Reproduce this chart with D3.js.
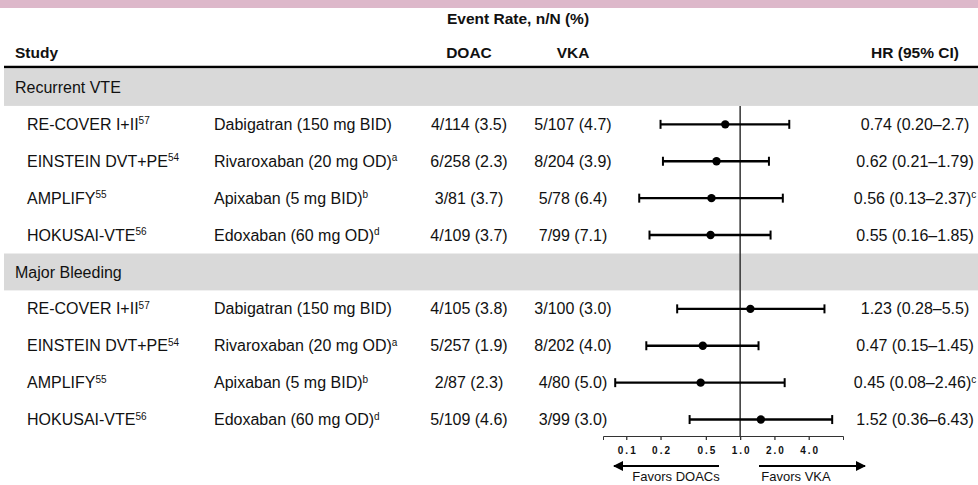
<!doctype html>
<html>
<head>
<meta charset="UTF-8">
<title>forest plot</title>
<script src="https://d3js.org/d3.v7.min.js"></script>
<style>
  body { margin: 0; background: #fff; }
  text { font-family: "Liberation Sans", Arial, sans-serif; fill: #111; }
</style>
</head>
<body>
<svg width="978" height="485"></svg>
<script>
// ---- data ----
var groups = ["Recurrent VTE", "Major Bleeding"];
var studies = ["RE-COVER I+II", "EINSTEIN DVT+PE", "AMPLIFY", "HOKUSAI-VTE"];
var studyRefs = ["57", "54", "55", "56"];
var drugs = ["Dabigatran (150 mg BID)", "Rivaroxaban (20 mg OD)", "Apixaban (5 mg BID)", "Edoxaban (60 mg OD)"];
var drugNotes = ["", "a", "b", "d"];

var doacRate = [["4/114 (3.5)", "6/258 (2.3)", "3/81 (3.7)", "4/109 (3.7)"],
                ["4/105 (3.8)", "5/257 (1.9)", "2/87 (2.3)", "5/109 (4.6)"]];
var vkaRate  = [["5/107 (4.7)", "8/204 (3.9)", "5/78 (6.4)", "7/99 (7.1)"],
                ["3/100 (3.0)", "8/202 (4.0)", "4/80 (5.0)", "3/99 (3.0)"]];

var hr   = [[0.74, 0.62, 0.56, 0.55], [1.23, 0.47, 0.45, 1.52]];
var hrLo = [[0.20, 0.21, 0.13, 0.16], [0.28, 0.15, 0.08, 0.36]];
var hrHi = [[2.7, 1.79, 2.37, 1.85], [5.5, 1.45, 2.46, 6.43]];
var hrText = [["0.74 (0.20\u20132.7)", "0.62 (0.21\u20131.79)", "0.56 (0.13\u20132.37)", "0.55 (0.16\u20131.85)"],
              ["1.23 (0.28\u20135.5)", "0.47 (0.15\u20131.45)", "0.45 (0.08\u20132.46)", "1.52 (0.36\u20136.43)"]];
var hrNotes = [["", "", "c", ""], ["", "", "c", ""]];

var tickValues = [0.1, 0.2, 0.5, 1, 2, 4];
var tickLabels = ["0.1", "0.2", "0.5", "1.0", "2.0", "4.0"];

// ---- layout ----
var svg = d3.select("svg");
var W = 978;

// one slot per line: group band + its studies
var slots = [];
groups.forEach(function(g, gi) {
  slots.push({type: "group", g: gi, key: "g" + gi});
  studies.forEach(function(s, si) {
    slots.push({type: "row", g: gi, s: si, key: "r" + gi + "_" + si});
  });
});

var y = d3.scaleBand().domain(slots.map(function(d) { return d.key; })).range([69, 438]);
var x = d3.scaleLog().domain([1 / 16, 8]).range([603, 843]);

var colStudy = 27, colGroup = 15, colDrug = 214, colDoac = 469, colVka = 573, colHr = 915;

// top pink strip
svg.append("rect").attr("x", 0).attr("y", 0).attr("width", W).attr("height", 8).attr("fill", "#ddb8ca");

// headers
svg.append("text").attr("x", 518).attr("y", 24).attr("text-anchor", "middle")
  .attr("font-size", 15.5).attr("font-weight", "bold").text("Event Rate, n/N (%)");
var heads = [["Study", 15, "start"], ["DOAC", colDoac, "middle"], ["VKA", colVka, "middle"], ["HR (95% CI)", colHr, "middle"]];
heads.forEach(function(h) {
  svg.append("text").attr("x", h[1]).attr("y", 58).attr("text-anchor", h[2])
    .attr("font-size", 15.5).attr("font-weight", "bold").text(h[0]);
});
svg.append("line").attr("x1", 4).attr("x2", W).attr("y1", 67).attr("y2", 67)
  .attr("stroke", "#000").attr("stroke-width", 2.5);

// group bands
slots.filter(function(d) { return d.type === "group"; }).forEach(function(d) {
  svg.append("rect").attr("x", 4).attr("y", y(d.key)).attr("width", W - 4).attr("height", y.bandwidth())
    .attr("fill", "#d9d9d9");
  svg.append("text").attr("x", colGroup).attr("y", y(d.key) + y.bandwidth() / 2).attr("dy", "0.35em")
    .attr("font-size", 16).text(groups[d.g]);
});

// reference line at HR = 1
svg.append("line").attr("x1", x(1)).attr("x2", x(1))
  .attr("y1", y("r0_0")).attr("y2", 436)
  .attr("stroke", "#333").attr("stroke-width", 1.5);

// study rows
var rows = slots.filter(function(d) { return d.type === "row"; });
rows.forEach(function(d) {
  var cy = y(d.key) + y.bandwidth() / 2;
  var t = svg.append("text").attr("x", colStudy).attr("y", cy).attr("dy", "0.35em").attr("font-size", 16);
  t.append("tspan").text(studies[d.s]);
  t.append("tspan").attr("font-size", 10).attr("dy", "-0.55em").text(studyRefs[d.s]);

  var t2 = svg.append("text").attr("x", colDrug).attr("y", cy).attr("dy", "0.35em").attr("font-size", 16);
  t2.append("tspan").text(drugs[d.s]);
  if (drugNotes[d.s]) t2.append("tspan").attr("font-size", 10).attr("dy", "-0.55em").text(drugNotes[d.s]);

  svg.append("text").attr("x", colDoac).attr("y", cy).attr("dy", "0.35em").attr("font-size", 16)
    .attr("text-anchor", "middle").text(doacRate[d.g][d.s]);
  svg.append("text").attr("x", colVka).attr("y", cy).attr("dy", "0.35em").attr("font-size", 16)
    .attr("text-anchor", "middle").text(vkaRate[d.g][d.s]);

  var t3 = svg.append("text").attr("x", colHr).attr("y", cy).attr("dy", "0.35em").attr("font-size", 16)
    .attr("text-anchor", "middle");
  t3.append("tspan").text(hrText[d.g][d.s]);
  if (hrNotes[d.g][d.s]) t3.append("tspan").attr("font-size", 10).attr("dy", "-0.55em").text(hrNotes[d.g][d.s]);

  // CI whisker
  var lo = x(hrLo[d.g][d.s]), hi = x(hrHi[d.g][d.s]);
  svg.append("line").attr("x1", lo).attr("x2", hi).attr("y1", cy).attr("y2", cy)
    .attr("stroke", "#000").attr("stroke-width", 2.4);
  [lo, hi].forEach(function(px) {
    svg.append("line").attr("x1", px).attr("x2", px).attr("y1", cy - 4.5).attr("y2", cy + 4.5)
      .attr("stroke", "#000").attr("stroke-width", 2);
  });
  svg.append("circle").attr("cx", x(hr[d.g][d.s])).attr("cy", cy).attr("r", 4.2).attr("fill", "#000");
});

// x axis
var axis = d3.axisBottom(x).tickValues(tickValues).tickSize(4)
  .tickFormat(function(d, i) { return tickLabels[i]; });
var ax = svg.append("g").attr("transform", "translate(0,436)").call(axis);
ax.select(".domain").attr("stroke", "#333").attr("stroke-width", 1);
ax.selectAll(".tick line").attr("stroke", "#333").attr("stroke-width", 1.3);
ax.selectAll(".tick text").attr("y", 14).attr("dy", "0.4em").attr("dx", 1)
  .attr("font-family", "'Liberation Sans', Arial, sans-serif").attr("font-size", 10).attr("font-weight", "bold")
  .attr("fill", "#111").attr("letter-spacing", 2);

// favors arrows
svg.append("defs").append("marker").attr("id", "ah").attr("viewBox", "0 0 10 10")
  .attr("refX", 9).attr("refY", 5).attr("markerWidth", 6).attr("markerHeight", 5)
  .attr("markerUnits", "strokeWidth").attr("orient", "auto")
  .append("path").attr("d", "M0,0L10,5L0,10Z").attr("fill", "#000");
svg.append("line").attr("x1", 719).attr("x2", 614).attr("y1", 466).attr("y2", 466)
  .attr("stroke", "#000").attr("stroke-width", 2).attr("marker-end", "url(#ah)");
svg.append("line").attr("x1", 759).attr("x2", 865).attr("y1", 466).attr("y2", 466)
  .attr("stroke", "#000").attr("stroke-width", 2).attr("marker-end", "url(#ah)");
svg.append("text").attr("x", 676).attr("y", 481).attr("text-anchor", "middle")
  .attr("font-family", "Carlito, 'Open Sans', sans-serif").attr("font-size", 13).text("Favors DOACs");
svg.append("text").attr("x", 796).attr("y", 481).attr("text-anchor", "middle")
  .attr("font-family", "Carlito, 'Open Sans', sans-serif").attr("font-size", 13).text("Favors VKA");
</script>
</body>
</html>
